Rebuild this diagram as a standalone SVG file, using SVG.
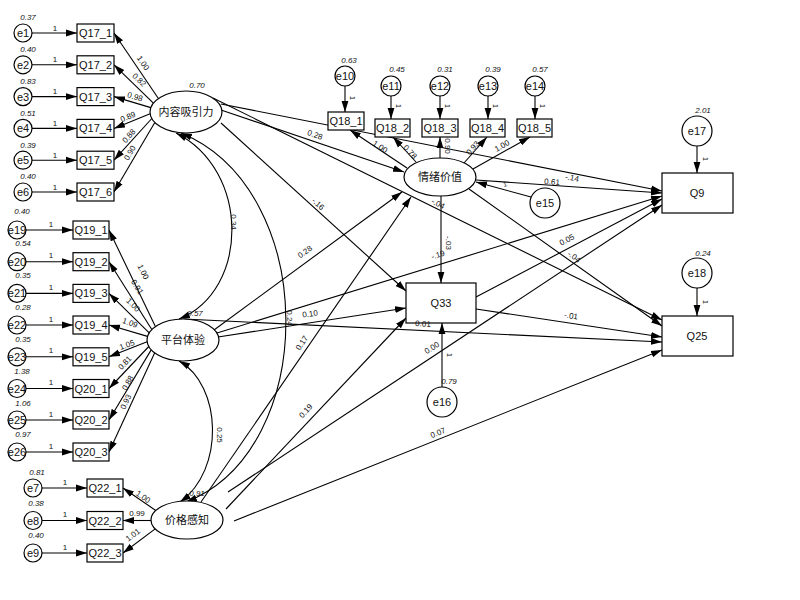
<svg xmlns="http://www.w3.org/2000/svg" width="800" height="600" viewBox="0 0 800 600">
<defs>
<marker id="ah" markerUnits="userSpaceOnUse" markerWidth="11" markerHeight="8" refX="11" refY="4" orient="auto"><path d="M0,0.6 L11,4 L0,7.4 Z" fill="#000"/></marker>
<marker id="ahs" markerUnits="userSpaceOnUse" markerWidth="11" markerHeight="8" refX="11" refY="4" orient="auto-start-reverse"><path d="M0,0.6 L11,4 L0,7.4 Z" fill="#000"/></marker>
</defs>
<style>
text{font-family:"Liberation Sans","Noto Sans CJK SC",Arial,sans-serif;fill:#111}
.n{font-size:11px;text-anchor:middle;dominant-baseline:central}
.v{font-size:8px;font-style:italic;text-anchor:middle;dominant-baseline:central}
.p{font-size:8px;text-anchor:middle;dominant-baseline:central}
.o{font-size:7px;text-anchor:middle;dominant-baseline:central}
.c line{stroke:#000;stroke-width:1.1;marker-end:url(#ah)}
.c path{stroke:#000;stroke-width:1.1;fill:none;marker-start:url(#ahs);marker-end:url(#ahs)}
.b{fill:#fff;stroke:#000;stroke-width:1.2}
</style>
<rect width="800" height="600" fill="#fff"/>

<g id="connectors" class="c">
<!-- error to indicator -->
<line x1="32" y1="33" x2="77" y2="33"/>
<line x1="32" y1="64.8" x2="77" y2="64.8"/>
<line x1="32" y1="96.6" x2="77" y2="96.6"/>
<line x1="32" y1="128.4" x2="77" y2="128.4"/>
<line x1="32" y1="160.2" x2="77" y2="160.2"/>
<line x1="32" y1="192" x2="77" y2="192"/>
<line x1="26" y1="230" x2="73" y2="230"/>
<line x1="26" y1="261.7" x2="73" y2="261.7"/>
<line x1="26" y1="293.4" x2="73" y2="293.4"/>
<line x1="26" y1="325" x2="73" y2="325"/>
<line x1="26" y1="356.8" x2="73" y2="356.8"/>
<line x1="26" y1="388.5" x2="73" y2="388.5"/>
<line x1="26" y1="420" x2="73" y2="420"/>
<line x1="26" y1="452" x2="73" y2="452"/>
<line x1="42" y1="488" x2="87" y2="488"/>
<line x1="42" y1="520.5" x2="87" y2="520.5"/>
<line x1="42" y1="553" x2="87" y2="553"/>
<line x1="345" y1="86" x2="345" y2="112"/>
<line x1="391" y1="96" x2="391" y2="119"/>
<line x1="440" y1="96" x2="440" y2="119"/>
<line x1="488" y1="96" x2="488" y2="119"/>
<line x1="535" y1="96" x2="535" y2="119"/>
<line x1="531" y1="197" x2="476" y2="182"/>
<line x1="442" y1="387" x2="442" y2="323"/>
<line x1="697" y1="146" x2="697" y2="173"/>
<line x1="697" y1="288" x2="697" y2="316"/>
<!-- loadings -->
<line x1="158.4" y1="98.5" x2="114" y2="33"/>
<line x1="153.4" y1="103.1" x2="114" y2="64.8"/>
<line x1="150.8" y1="107.6" x2="114" y2="96.6"/>
<line x1="150.1" y1="113.8" x2="114" y2="128.4"/>
<line x1="151.8" y1="118.5" x2="114" y2="160.2"/>
<line x1="154.8" y1="122.5" x2="114" y2="192"/>
<line x1="155.4" y1="326.5" x2="109" y2="230"/>
<line x1="151.8" y1="329.5" x2="109" y2="261.7"/>
<line x1="149.2" y1="332.8" x2="109" y2="293.4"/>
<line x1="147.5" y1="336.4" x2="109" y2="325"/>
<line x1="147.1" y1="341.8" x2="109" y2="356.8"/>
<line x1="148.8" y1="346.5" x2="109" y2="388.5"/>
<line x1="151.2" y1="349.9" x2="109" y2="420"/>
<line x1="154.6" y1="352.9" x2="109" y2="452"/>
<line x1="155.8" y1="510.5" x2="123" y2="488"/>
<line x1="151" y1="520.5" x2="123" y2="520.5"/>
<line x1="155.2" y1="528.9" x2="123" y2="553"/>
<line x1="407" y1="168" x2="350" y2="130"/>
<line x1="416" y1="162" x2="393" y2="137"/>
<line x1="440" y1="158" x2="440" y2="137"/>
<line x1="464" y1="163" x2="487" y2="137"/>
<line x1="473" y1="169" x2="530" y2="137"/>
<!-- structural paths -->
<line x1="221" y1="110" x2="404" y2="172"/>
<line x1="221" y1="104" x2="662" y2="191"/>
<line x1="213" y1="98" x2="662" y2="320"/>
<line x1="221" y1="123" x2="406" y2="291"/>
<line x1="214" y1="330" x2="402" y2="192"/>
<line x1="218" y1="337" x2="406" y2="308"/>
<line x1="217" y1="333" x2="662" y2="196"/>
<line x1="184" y1="319" x2="662" y2="342"/>
<line x1="201" y1="502" x2="411" y2="197"/>
<line x1="226" y1="509" x2="406" y2="318"/>
<line x1="228" y1="492" x2="662" y2="205"/>
<line x1="234" y1="521" x2="662" y2="350"/>
<line x1="441" y1="196" x2="441" y2="283"/>
<line x1="476" y1="180" x2="662" y2="193"/>
<line x1="469" y1="189" x2="662" y2="326"/>
<line x1="476" y1="297" x2="662" y2="199"/>
<line x1="476" y1="309" x2="662" y2="337"/>
<!-- covariances -->
<path d="M176,133 C250,170 250,290 179,319"/>
<path d="M181,133 C320,190 320,450 186,502"/>
<path d="M179,361 C222,385 225,470 180,502"/>
</g>

<g id="Q17_group">
<g id="e1"><circle class="b" cx="23" cy="33" r="9"/><text class="n" x="23" y="33">e1</text><text class="v" x="28" y="17">0.37</text></g>
<g id="e2"><circle class="b" cx="23" cy="64.8" r="9"/><text class="n" x="23" y="64.8">e2</text><text class="v" x="28" y="49">0.40</text></g>
<g id="e3"><circle class="b" cx="23" cy="96.6" r="9"/><text class="n" x="23" y="96.6">e3</text><text class="v" x="28" y="81">0.83</text></g>
<g id="e4"><circle class="b" cx="23" cy="128.4" r="9"/><text class="n" x="23" y="128.4">e4</text><text class="v" x="28" y="113">0.51</text></g>
<g id="e5"><circle class="b" cx="23" cy="160.2" r="9"/><text class="n" x="23" y="160.2">e5</text><text class="v" x="28" y="145">0.39</text></g>
<g id="e6"><circle class="b" cx="23" cy="192" r="9"/><text class="n" x="23" y="192">e6</text><text class="v" x="28" y="176">0.40</text></g>
<g id="Q17_1"><rect class="b" x="77" y="24" width="37" height="18"/><text class="n" x="95.5" y="33">Q17_1</text></g>
<g id="Q17_2"><rect class="b" x="77" y="55.8" width="37" height="18"/><text class="n" x="95.5" y="64.8">Q17_2</text></g>
<g id="Q17_3"><rect class="b" x="77" y="87.6" width="37" height="18"/><text class="n" x="95.5" y="96.6">Q17_3</text></g>
<g id="Q17_4"><rect class="b" x="77" y="119.4" width="37" height="18"/><text class="n" x="95.5" y="128.4">Q17_4</text></g>
<g id="Q17_5"><rect class="b" x="77" y="151.2" width="37" height="18"/><text class="n" x="95.5" y="160.2">Q17_5</text></g>
<g id="Q17_6"><rect class="b" x="77" y="183" width="37" height="18"/><text class="n" x="95.5" y="192">Q17_6</text></g>
</g>

<g id="Q19_group">
<g id="e19"><circle class="b" cx="17" cy="230" r="9"/><text class="n" x="17" y="230">e19</text><text class="v" x="22" y="211">0.40</text></g>
<g id="e20"><circle class="b" cx="17" cy="261.7" r="9"/><text class="n" x="17" y="261.7">e20</text><text class="v" x="23" y="243">0.54</text></g>
<g id="e21"><circle class="b" cx="17" cy="293.4" r="9"/><text class="n" x="17" y="293.4">e21</text><text class="v" x="23" y="275">0.35</text></g>
<g id="e22"><circle class="b" cx="17" cy="325" r="9"/><text class="n" x="17" y="325">e22</text><text class="v" x="23" y="307">0.28</text></g>
<g id="e23"><circle class="b" cx="17" cy="356.8" r="9"/><text class="n" x="17" y="356.8">e23</text><text class="v" x="23" y="339">0.35</text></g>
<g id="e24"><circle class="b" cx="17" cy="388.5" r="9"/><text class="n" x="17" y="388.5">e24</text><text class="v" x="22" y="371">1.38</text></g>
<g id="e25"><circle class="b" cx="17" cy="420" r="9"/><text class="n" x="17" y="420">e25</text><text class="v" x="23" y="403">1.06</text></g>
<g id="e26"><circle class="b" cx="17" cy="452" r="9"/><text class="n" x="17" y="452">e26</text><text class="v" x="23" y="434">0.97</text></g>
<g id="Q19_1"><rect class="b" x="73" y="221" width="36" height="18"/><text class="n" x="91" y="230">Q19_1</text></g>
<g id="Q19_2"><rect class="b" x="73" y="252.7" width="36" height="18"/><text class="n" x="91" y="261.7">Q19_2</text></g>
<g id="Q19_3"><rect class="b" x="73" y="284.4" width="36" height="18"/><text class="n" x="91" y="293.4">Q19_3</text></g>
<g id="Q19_4"><rect class="b" x="73" y="316" width="36" height="18"/><text class="n" x="91" y="325">Q19_4</text></g>
<g id="Q19_5"><rect class="b" x="73" y="347.8" width="36" height="18"/><text class="n" x="91" y="356.8">Q19_5</text></g>
<g id="Q20_1"><rect class="b" x="73" y="379.5" width="36" height="18"/><text class="n" x="91" y="388.5">Q20_1</text></g>
<g id="Q20_2"><rect class="b" x="73" y="411" width="36" height="18"/><text class="n" x="91" y="420">Q20_2</text></g>
<g id="Q20_3"><rect class="b" x="73" y="443" width="36" height="18"/><text class="n" x="91" y="452">Q20_3</text></g>
</g>

<g id="Q22_group">
<g id="e7"><circle class="b" cx="33" cy="488" r="9"/><text class="n" x="33" y="488">e7</text><text class="v" x="37" y="472">0.81</text></g>
<g id="e8"><circle class="b" cx="33" cy="520.5" r="9"/><text class="n" x="33" y="520.5">e8</text><text class="v" x="36" y="503">0.38</text></g>
<g id="e9"><circle class="b" cx="33" cy="553" r="9"/><text class="n" x="33" y="553">e9</text><text class="v" x="36" y="535">0.40</text></g>
<g id="Q22_1"><rect class="b" x="87" y="479" width="36" height="18"/><text class="n" x="105" y="488">Q22_1</text></g>
<g id="Q22_2"><rect class="b" x="87" y="511.5" width="36" height="18"/><text class="n" x="105" y="520.5">Q22_2</text></g>
<g id="Q22_3"><rect class="b" x="87" y="544" width="36" height="18"/><text class="n" x="105" y="553">Q22_3</text></g>
</g>

<g id="Q18_group">
<g id="e10"><circle class="b" cx="345" cy="76" r="10"/><text class="n" x="345" y="76">e10</text><text class="v" x="349" y="60">0.63</text></g>
<g id="e11"><circle class="b" cx="391" cy="86" r="10"/><text class="n" x="391" y="86">e11</text><text class="v" x="397" y="69">0.45</text></g>
<g id="e12"><circle class="b" cx="440" cy="86" r="10"/><text class="n" x="440" y="86">e12</text><text class="v" x="445" y="69">0.31</text></g>
<g id="e13"><circle class="b" cx="488" cy="86" r="10"/><text class="n" x="488" y="86">e13</text><text class="v" x="493" y="69">0.39</text></g>
<g id="e14"><circle class="b" cx="535" cy="86" r="10"/><text class="n" x="535" y="86">e14</text><text class="v" x="540" y="69">0.57</text></g>
<g id="Q18_1"><rect class="b" x="328" y="112" width="36" height="18"/><text class="n" x="346" y="121">Q18_1</text></g>
<g id="Q18_2"><rect class="b" x="375" y="119" width="35" height="18"/><text class="n" x="392.5" y="128">Q18_2</text></g>
<g id="Q18_3"><rect class="b" x="422" y="119" width="36" height="18"/><text class="n" x="440" y="128">Q18_3</text></g>
<g id="Q18_4"><rect class="b" x="470" y="119" width="35" height="18"/><text class="n" x="487.5" y="128">Q18_4</text></g>
<g id="Q18_5"><rect class="b" x="517" y="119" width="35" height="18"/><text class="n" x="534.5" y="128">Q18_5</text></g>
</g>

<g id="neirong"><ellipse class="b" cx="186" cy="112" rx="36" ry="21"/><text class="n" x="186" y="112">内容吸引力</text><text class="v" x="197" y="85">0.70</text></g>
<g id="pingtai"><ellipse class="b" cx="183" cy="340" rx="36" ry="21"/><text class="n" x="183" y="340">平台体验</text><text class="v" x="195" y="313">0.57</text></g>
<g id="jiage"><ellipse class="b" cx="187" cy="520" rx="36" ry="19"/><text class="n" x="187" y="520">价格感知</text><text class="v" x="197" y="493">0.91</text></g>
<g id="qingxu"><ellipse class="b" cx="440" cy="177" rx="36" ry="19"/><text class="n" x="440" y="177">情绪价值</text></g>
<g id="e15"><circle class="b" cx="545" cy="203" r="15"/><text class="n" x="545" y="203">e15</text></g>
<g id="Q33"><rect class="b" x="406" y="283" width="70" height="40"/><text class="n" x="441" y="303">Q33</text></g>
<g id="e16"><circle class="b" cx="442" cy="402" r="15"/><text class="n" x="442" y="402">e16</text><text class="v" x="449" y="381">0.79</text></g>
<g id="Q9"><rect class="b" x="662" y="173" width="71" height="40"/><text class="n" x="697" y="193">Q9</text></g>
<g id="e17"><circle class="b" cx="697" cy="131" r="15"/><text class="n" x="697" y="131">e17</text><text class="v" x="703" y="110">2.01</text></g>
<g id="Q25"><rect class="b" x="662" y="316" width="71" height="40"/><text class="n" x="697" y="336">Q25</text></g>
<g id="e18"><circle class="b" cx="697" cy="273" r="15"/><text class="n" x="697" y="273">e18</text><text class="v" x="703" y="253">0.24</text></g>

<g id="labels">
<text class="p" x="55" y="28">1</text><text class="p" x="55" y="59.8">1</text><text class="p" x="55" y="91.6">1</text><text class="p" x="55" y="123.4">1</text><text class="p" x="55" y="155.2">1</text><text class="p" x="55" y="187">1</text>
<text class="p" x="51" y="224">1</text><text class="p" x="51" y="255.7">1</text><text class="p" x="51" y="287.4">1</text><text class="p" x="51" y="319">1</text><text class="p" x="51" y="350.8">1</text><text class="p" x="51" y="382.5">1</text><text class="p" x="51" y="414">1</text><text class="p" x="51" y="446">1</text>
<text class="p" x="65" y="482">1</text><text class="p" x="65" y="514.5">1</text><text class="p" x="65" y="547">1</text>
<text class="o" transform="translate(352,98) rotate(90)">1</text>
<text class="o" transform="translate(398,106) rotate(90)">1</text>
<text class="o" transform="translate(447,106) rotate(90)">1</text>
<text class="o" transform="translate(495,106) rotate(90)">1</text>
<text class="o" transform="translate(542,106) rotate(90)">1</text>
<text class="o" transform="translate(705,159) rotate(90)">1</text>
<text class="o" transform="translate(705,302) rotate(90)">1</text>
<text class="o" transform="translate(449,355) rotate(90)">1</text>
<text class="o" transform="translate(505,184) rotate(-15)">1</text>

<text class="p" transform="translate(143,63) rotate(56)">1.00</text>
<text class="p" transform="translate(139,80) rotate(44)">0.82</text>
<text class="p" transform="translate(135,97) rotate(17)">0.98</text>
<text class="p" transform="translate(128,117) rotate(-23)">0.89</text>
<text class="p" transform="translate(129,136) rotate(-48)">0.88</text>
<text class="p" transform="translate(130,153) rotate(-59)">0.90</text>

<text class="p" transform="translate(143,272) rotate(64)">1.00</text>
<text class="p" transform="translate(137,287) rotate(58)">0.91</text>
<text class="p" transform="translate(133,305) rotate(45)">1.00</text>
<text class="p" transform="translate(130,323) rotate(19)">1.09</text>
<text class="p" transform="translate(127,345) rotate(-19)">1.05</text>
<text class="p" transform="translate(125,363) rotate(-46)">0.81</text>
<text class="p" transform="translate(128,383) rotate(-59)">0.88</text>
<text class="p" transform="translate(126,402) rotate(-65)">0.93</text>

<text class="p" transform="translate(143,497) rotate(34)">1.00</text>
<text class="p" transform="translate(137,513)">0.99</text>
<text class="p" transform="translate(133,535) rotate(-37)">1.01</text>

<text class="p" transform="translate(380,147) rotate(33)">1.00</text>
<text class="p" transform="translate(410,152) rotate(47)">0.78</text>
<text class="p" transform="translate(447,146) rotate(90)">0.90</text>
<text class="p" transform="translate(473,148) rotate(-48)">0.93</text>
<text class="p" transform="translate(502,146) rotate(-29)">1.00</text>

<text class="p" transform="translate(315,135) rotate(19)">0.28</text>
<text class="p" transform="translate(318,204) rotate(43)">-.16</text>
<text class="p" transform="translate(305,252) rotate(-36)">0.28</text>
<text class="p" transform="translate(310,314) rotate(-8)">0.10</text>
<text class="p" transform="translate(438,255) rotate(-17)">-.19</text>
<text class="p" transform="translate(423,324) rotate(3)">0.01</text>
<text class="p" transform="translate(302,343) rotate(-56)">0.17</text>
<text class="p" transform="translate(306,411) rotate(-47)">0.19</text>
<text class="p" transform="translate(432,348) rotate(-33)">0.00</text>
<text class="p" transform="translate(438,433) rotate(-22)">0.07</text>
<text class="p" transform="translate(567,240) rotate(-28)">0.05</text>
<text class="p" transform="translate(574,257) rotate(36)">-.04</text>
<text class="p" transform="translate(438,204) rotate(27)">-.04</text>
<text class="p" transform="translate(448,243) rotate(90)">-.03</text>
<text class="p" transform="translate(552,182) rotate(4)">0.61</text>
<text class="p" transform="translate(572,178) rotate(11)">-.14</text>
<text class="p" transform="translate(571,316) rotate(9)">-.01</text>
<text class="p" transform="translate(233,222) rotate(90)">0.34</text>
<text class="p" transform="translate(289,318) rotate(90)">0.24</text>
<text class="p" transform="translate(219,435) rotate(90)">0.25</text>
</g>
</svg>
